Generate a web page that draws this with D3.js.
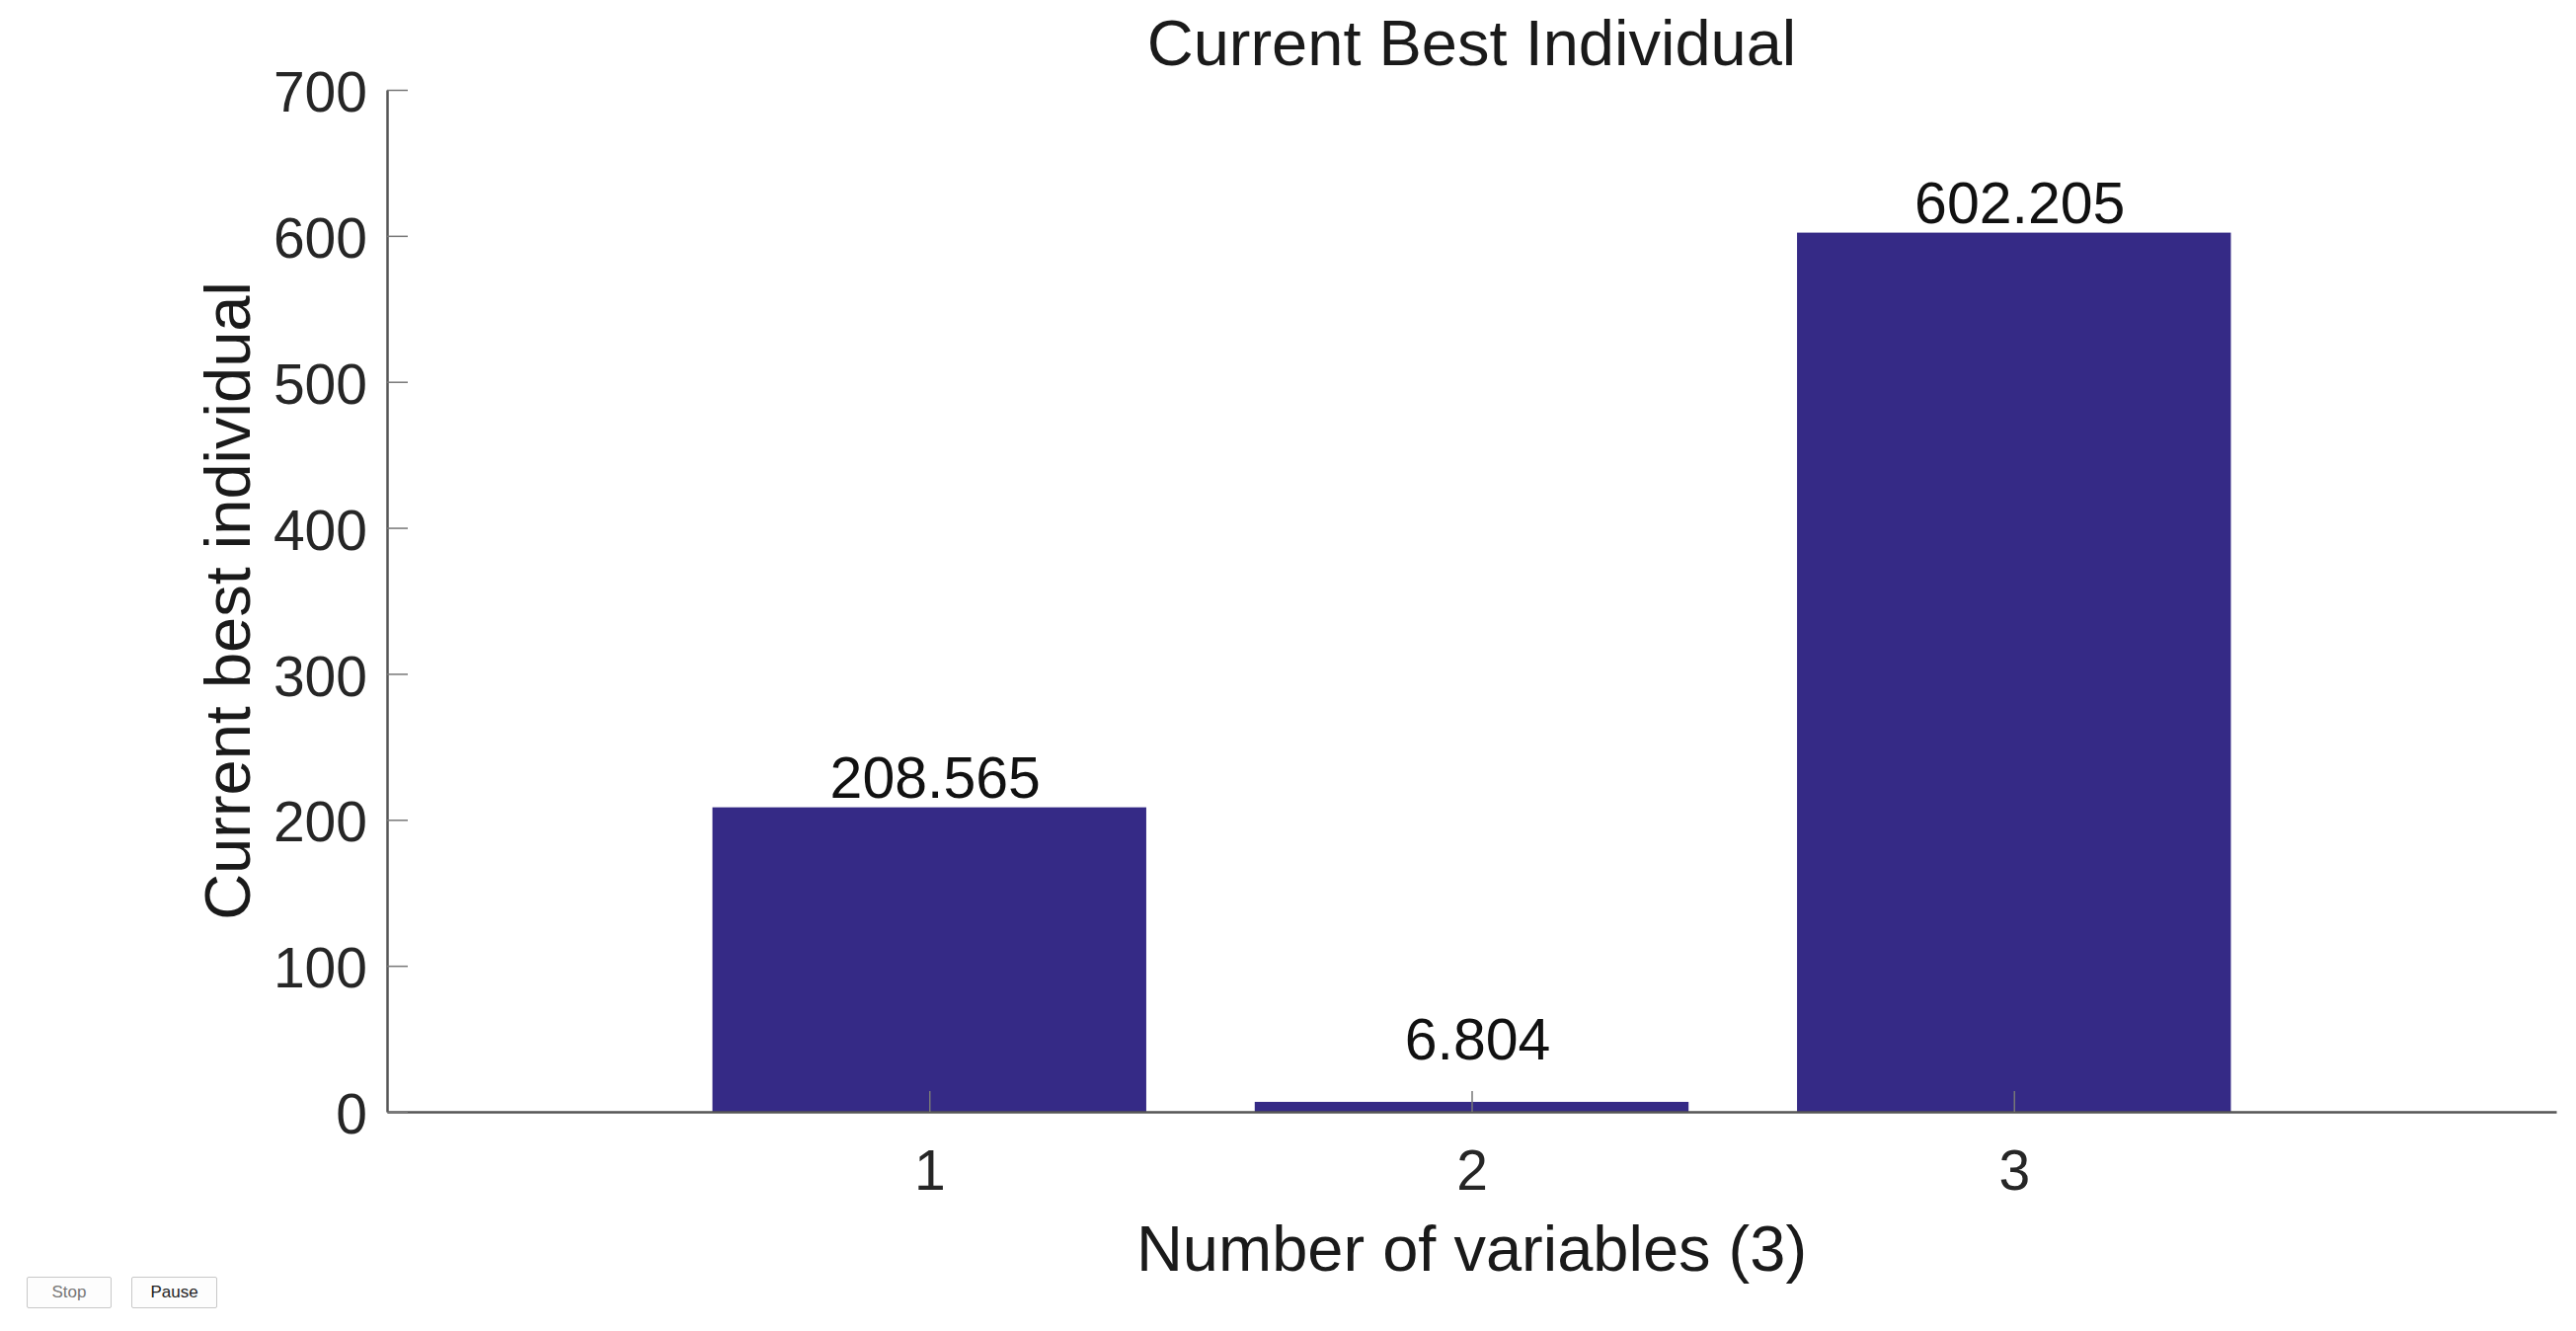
<!DOCTYPE html>
<meta charset="utf-8">
<head>
<style>
  body {
    margin: 0;
    background: #fff;
    font-family: "Liberation Sans", Arial, sans-serif;
  }
  .bar {
    fill: #352a86;
  }
  .axis text {
    font-size: 57px;
    fill: #262626;
    font-family: "Liberation Sans", Arial, sans-serif;
  }
  .axis path {
    fill: none;
    stroke: #555;
    stroke-width: 2.5px;
  }
  .axis line {
    stroke: #777;
    stroke-width: 1.5px;
  }
  .label {
    font-size: 65px;
    fill: #1a1a1a;
  }
  .value {
    font-size: 59px;
    fill: #111;
    text-anchor: middle;
  }
  .btn {
    position: absolute;
    height: 32px;
    font: 17px "Liberation Sans", Arial, sans-serif;
    background: #fdfdfd;
    border: 1px solid #c8c8c8;
    border-radius: 2px;
    padding: 0;
  }
</style>
</head>
<body>
<script src="https://d3js.org/d3.v7.min.js"></script>
<script>
// chart data
var categories = [1, 2, 3];
var values = [208.565, 6.804, 602.205];
var yTicks = [0, 100, 200, 300, 400, 500, 600, 700];
var valueLabels = ["208.565", "6.804", "602.205"];

var titleText = "Current Best Individual";
var xLabel = "Number of variables (3)";
var yLabel = "Current best individual";

// canvas
var W = 2609, H = 1348;
var margin = {top: 91, right: 20, bottom: 222, left: 392},
    width = 2589 - margin.left,
    height = 1126 - margin.top;

var x = d3.scaleLinear().domain([0, 4]).range([0, width]);
var y = d3.scaleLinear().domain([0, 700]).range([height, 0]);
var barWidth = 0.8;

var svg = d3.select("body")
    .append("svg")
    .attr("width", W)
    .attr("height", H)
    .style("position", "absolute")
    .style("left", 0)
    .style("top", 0);

var g = svg.append("g")
    .attr("transform", "translate(" + margin.left + "," + margin.top + ")");

// bars
g.selectAll(".bar")
    .data(values)
  .enter().append("rect")
    .attr("class", "bar")
    .attr("x", function(d, i) { return x(categories[i] - barWidth / 2); })
    .attr("width", x(barWidth) - x(0))
    .attr("y", function(d) { return y(d); })
    .attr("height", function(d) { return height - y(d); });

// value labels (kept clear of the inward tick for tiny bars)
g.selectAll(".value")
    .data(values)
  .enter().append("text")
    .attr("class", "value")
    .attr("x", function(d, i) { return x(categories[i]) + 6; })
    .attr("y", function(d) { return Math.min(y(d) - 10, height - 53); })
    .text(function(d, i) { return valueLabels[i]; });

// x axis, ticks pointing inward
var xAxis = d3.axisBottom(x)
    .tickValues(categories)
    .tickFormat(d3.format("d"))
    .tickSizeInner(-21)
    .tickSizeOuter(0);

g.append("g")
    .attr("class", "x axis")
    .attr("transform", "translate(0," + height + ")")
    .call(xAxis)
  .selectAll("text")
    .attr("y", 79)
    .attr("dy", null);

// y axis
var yAxis = d3.axisLeft(y)
    .tickValues(yTicks)
    .tickSizeInner(-21)
    .tickSizeOuter(0)
    .tickPadding(20);

g.append("g")
    .attr("class", "y axis")
    .call(yAxis)
  .selectAll("text")
    .attr("dy", "0.38em");

g.selectAll(".axis .domain").attr("stroke", null);

// title and axis labels
svg.append("text")
    .attr("class", "label")
    .attr("x", margin.left + width / 2)
    .attr("y", 66)
    .style("text-anchor", "middle")
    .text(titleText);

svg.append("text")
    .attr("class", "label")
    .attr("x", margin.left + width / 2)
    .attr("y", 1287)
    .style("text-anchor", "middle")
    .text(xLabel);

svg.append("text")
    .attr("class", "label")
    .attr("transform", "translate(253," + (margin.top + height / 2) + ") rotate(-90)")
    .style("text-anchor", "middle")
    .text(yLabel);

// control buttons
d3.select("body").append("button")
    .attr("class", "btn")
    .style("left", "27px").style("top", "1293px").style("width", "86px")
    .style("color", "#777")
    .text("Stop");

d3.select("body").append("button")
    .attr("class", "btn")
    .style("left", "133px").style("top", "1293px").style("width", "87px")
    .style("color", "#222")
    .text("Pause");
</script>
</body>
